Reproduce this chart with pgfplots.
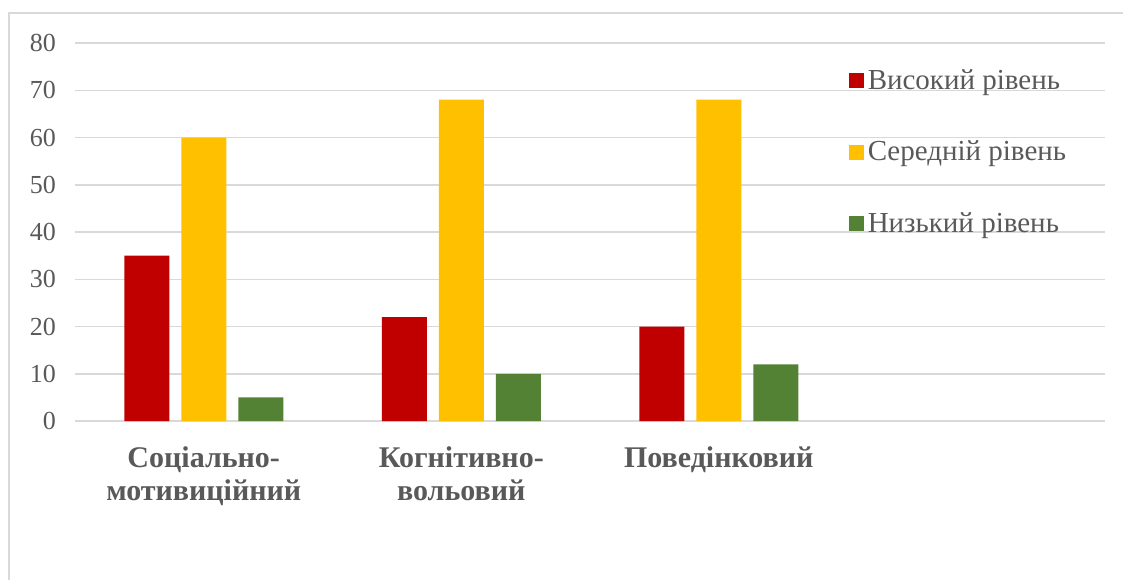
\documentclass[border=0pt]{standalone}
\usepackage{fontspec}
\setmainfont{Liberation Serif}
\usepackage{pgfplots}
\pgfplotsset{compat=1.18}
\definecolor{cred}{HTML}{C00000}
\definecolor{cyel}{HTML}{FFC000}
\definecolor{cgrn}{HTML}{548235}
\definecolor{txt}{HTML}{595959}
\definecolor{grd}{HTML}{D9D9D9}
\begin{document}
\begin{tikzpicture}
\path[use as bounding box] (0,0) rectangle (561.5pt,290pt);
\draw[grd, line width=0.75pt] (4.5pt,0) -- (4.5pt,283.5pt) -- (570pt,283.5pt);
\begin{axis}[
  at={(37.5pt,79.5pt)}, anchor=south west,
  scale only axis, width=515pt, height=189pt,
  xmin=-0.5, xmax=3.5, ymin=0, ymax=80,
  ybar=6pt, bar width=22.5pt,
  xtick={0,1,2},
  xticklabels={{Соціально-\\мотивиційний},{Когнітивно-\\вольовий},{Поведінковий}},
  ytick={0,10,...,80},
  ymajorgrids, grid style={grd, line width=0.75pt},
  axis line style={draw=none},
  major tick length=0pt,
  /pgf/number format/assume math mode=true,
  yticklabel style={font=\fontsize{13}{15}\selectfont, text=txt, xshift=-6pt},
  xticklabel style={font=\bfseries\fontsize{15}{16.5}\selectfont, text=txt, align=center, yshift=-9.5pt},
  legend style={draw=none, fill=none, at={(0.745,0.952)}, anchor=north west,
    font=\fontsize{14.5}{17}\selectfont, text=txt, row sep=20.3pt,
    cells={anchor=west}},
  legend image code/.code={\fill[#1] (0pt,-3.75pt) rectangle (7.5pt,3.75pt);},
]
\addplot[fill=cred, draw=none] coordinates {(0,35) (1,22) (2,20)};
\addplot[fill=cyel, draw=none] coordinates {(0,60) (1,68) (2,68)};
\addplot[fill=cgrn, draw=none] coordinates {(0,5) (1,10) (2,12)};
\legend{Високий рівень, Середній рівень, Низький рівень}
\end{axis}
\end{tikzpicture}
\end{document}
